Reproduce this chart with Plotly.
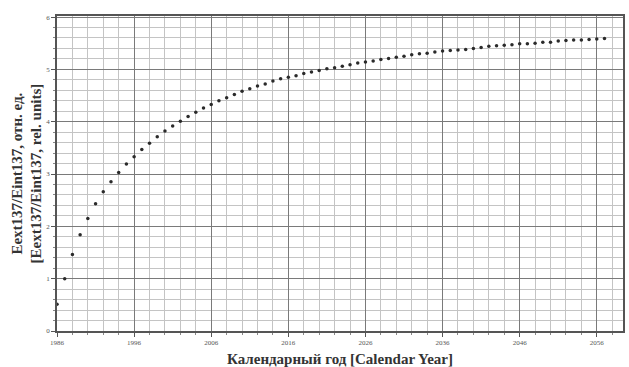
import plotly.graph_objects as go

years = list(range(1986, 2058))
ratio = [0.51, 1.00, 1.46, 1.84, 2.15, 2.43, 2.66, 2.85, 3.03, 3.19,
         3.33, 3.47, 3.59, 3.71, 3.82, 3.92, 4.01, 4.10, 4.18, 4.26,
         4.33, 4.40, 4.46, 4.52, 4.58, 4.63, 4.68, 4.72, 4.78, 4.82,
         4.85, 4.88, 4.92, 4.95, 4.98, 5.01, 5.03, 5.06, 5.09, 5.12,
         5.14, 5.16, 5.19, 5.21, 5.23, 5.25, 5.28, 5.30, 5.31, 5.33,
         5.35, 5.36, 5.37, 5.38, 5.40, 5.42, 5.44, 5.45, 5.46, 5.47,
         5.49, 5.49, 5.50, 5.52, 5.52, 5.54, 5.55, 5.56, 5.56, 5.57,
         5.58, 5.59]

x_ticks = [1986, 1996, 2006, 2016, 2026, 2036, 2046, 2056]
y_ticks = [0, 1, 2, 3, 4, 5, 6]

x_title = "Календарный год [Calendar Year]"
y_title = "Eext137/Eint137, отн. ед.<br>[Eext137/Eint137, rel. units]"

serif = "Liberation Serif, Times New Roman, serif"

fig = go.Figure()
fig.add_trace(go.Scatter(
    x=years, y=ratio, mode="markers",
    marker=dict(size=3.5, color="#2a2a2a", symbol="circle"),
    showlegend=False, hoverinfo="skip"))

axis_common = dict(
    showgrid=True, gridcolor="#7a7a7a", gridwidth=1.3,
    showline=True, linecolor="#555555", linewidth=1.5, mirror=True,
    ticks="outside", ticklen=4, tickcolor="#555555", tickwidth=1,
    tickfont=dict(family=serif, size=7, color="#555555"),
    zeroline=False,
)

fig.update_layout(
    width=629, height=367,
    margin=dict(l=57, r=4, t=16, b=36),
    paper_bgcolor="white", plot_bgcolor="white",
    xaxis=dict(range=[1986, 2059.4], tickvals=x_ticks,
               ticktext=[str(v) for v in x_ticks],
               minor=dict(dtick=2, tick0=1986, showgrid=True, gridcolor="#c4c4c4",
                          gridwidth=1, ticks="outside", ticklen=2, tickcolor="#888888"),
               **axis_common),
    yaxis=dict(range=[0, 6.02], tickvals=y_ticks,
               ticktext=[str(v) for v in y_ticks],
               minor=dict(dtick=0.2, tick0=0, showgrid=True, gridcolor="#c4c4c4",
                          gridwidth=1, ticks="outside", ticklen=2, tickcolor="#888888"),
               **axis_common),
    annotations=[
        dict(text="<b>" + x_title + "</b>", xref="paper", yref="paper",
             x=0.5, y=0, yshift=-28, xanchor="center", yanchor="middle",
             showarrow=False, font=dict(family=serif, size=15, color="#333333")),
        dict(text="<b>" + y_title.replace("<br>", "</b><br><b>") + "</b>",
             xref="paper", yref="paper", x=0, y=0.5, xshift=-31,
             xanchor="center", yanchor="middle", textangle=-90,
             showarrow=False, font=dict(family=serif, size=15, color="#333333")),
    ],
)

fig.write_html("out.html")
